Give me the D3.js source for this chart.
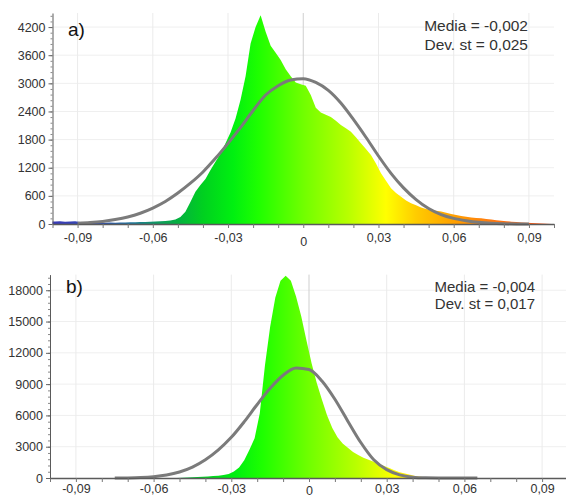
<!DOCTYPE html>
<html>
<head>
<meta charset="utf-8">
<script src="https://cdn.jsdelivr.net/npm/d3@7"></script>
<style>
body{margin:0;background:#fff;}
svg text{font-family:"Liberation Sans",Arial,sans-serif;}
</style>
</head>
<body>
<svg id="svg" width="566" height="498"></svg>
<script>
// histogram bins: start at -0.1, width 0.002 (100 bins)
var binStart=-0.1, binWidth=0.002;

var countsA=[
    55,60,50,55,60,45,40,35,30,30,
    25,30,25,30,30,35,35,40,45,50,
    55,60,65,75,95,150,260,470,690,830,
    960,1150,1330,1500,1720,1950,2250,2650,3150,3850,
    4200,4450,4100,3800,3650,3500,3300,3150,3020,2980,
    2950,2750,2480,2380,2330,2280,2200,2110,2040,1970,
    1850,1720,1600,1470,1290,1080,920,760,660,580,
    500,440,400,350,320,300,280,265,240,215,
    190,170,155,140,130,120,105,95,80,70,
    60,50,40,30,25,20,15,10,5,0
];
var countsB=[
    0,0,0,0,0,0,0,0,0,0,
    0,0,0,0,0,0,0,0,0,0,
    0,0,0,5,10,30,50,70,95,120,
    150,185,225,290,380,620,1000,1700,2700,3800,
    6200,10800,14500,17300,18900,19400,18900,17400,15500,13200,
    11000,9100,7500,6000,4800,3900,3300,2900,2500,2200,
    1950,1750,1550,1350,1150,950,750,560,420,300,
    200,130,80,40,15,5,0,0,0,0,
    0,0,0,0,0,0,0,0,0,0,
    0,0,0,0,0,0,0,0,0,0
];

// normal curves
var curveXA=[-0.09,-0.085,-0.08,-0.075,-0.07,-0.065,-0.06,-0.055,-0.05,-0.045,-0.04,-0.035,-0.03,-0.025,-0.02,-0.015,-0.01,-0.005,
    0,0.005,0.01,0.015,0.02,0.025,0.03,0.035,0.04,0.045,0.05,0.055,0.06,0.065,0.07,0.075,0.08,0.085,0.09];
var curveA=[15,30,55,95,150,230,340,480,660,870,1110,1400,1720,2060,2420,2750,2950,3070,
    3100,3020,2850,2580,2230,1850,1450,1080,770,520,330,200,120,70,35,15,5,0,0];
var curveXB=[-0.075,-0.07,-0.065,-0.06,-0.055,-0.05,-0.045,-0.04,-0.035,-0.03,-0.025,-0.02,-0.015,-0.01,-0.005,
    0,0.005,0.01,0.015,0.02,0.025,0.03,0.035,0.04,0.045,0.05,0.055,0.06,0.065];
var curveB=[0,10,45,130,290,580,1050,1750,2700,3900,5400,7050,8600,9850,10550,
    10400,9300,7550,5450,3400,1750,800,300,80,15,0,0,0,0];

var xTicks=[-0.09,-0.06,-0.03,0,0.03,0.06,0.09];
var yTicksA=[0,600,1200,1800,2400,3000,3600,4200];
var yTicksB=[0,3000,6000,9000,12000,15000,18000];
var statsA=["Media = -0,002","Dev. st = 0,025"];
var statsB=["Media = -0,004","Dev. st = 0,017"];

// colour ramp along x
var rampStops=[-0.1,-0.08,-0.068,-0.058,-0.05,-0.04,-0.028,-0.018,0,0.018,0.033,0.045,0.06,0.075,0.09,0.1];
var rampColors=["#3a3ab8","#3050b0","#20789a","#109a60","#04b040","#00d020","#00f010","#1eff00",
    "#70ff00","#b8ff00","#ffff00","#ffcc00","#ffa000","#ff7a10","#ff5a10","#ff4a10"];

var locale=d3.formatLocale({decimal:",",thousands:".",grouping:[3],currency:["","€"],minus:"-"});
var fmtX=locale.format(".2f");

var svg=d3.select("#svg");
var defs=svg.append("defs");

function drawPanel(p){
    var x=d3.scaleLinear().domain([-0.1,0.1]).range([p.left,p.right]);
    var y=d3.scaleLinear().domain([0,p.yMax]).range([p.bottom,p.top]);
    var g=svg.append("g");

    // gradient in user space so colour follows x
    var grad=defs.append("linearGradient")
        .attr("id",p.id)
        .attr("gradientUnits","userSpaceOnUse")
        .attr("x1",x(-0.1)).attr("x2",x(0.1))
        .attr("y1",0).attr("y2",0);
    grad.selectAll("stop")
        .data(rampStops)
        .enter().append("stop")
        .attr("offset",function(d){return (d+0.1)/0.2;})
        .attr("stop-color",function(d,i){return rampColors[i];});

    // grid
    g.selectAll(".hgrid")
        .data(p.yTicks.slice(1))
        .enter().append("line")
        .attr("x1",x(-0.1)).attr("x2",Math.min(x(0.1),566))
        .attr("y1",function(d){return y(d);}).attr("y2",function(d){return y(d);})
        .attr("stroke","#efefef");
    g.selectAll(".vgrid")
        .data(xTicks)
        .enter().append("line")
        .attr("x1",function(d){return x(d);}).attr("x2",function(d){return x(d);})
        .attr("y1",p.top).attr("y2",p.bottom)
        .attr("stroke",function(d){return d===0?"#cfcfcf":"#ebebeb";});

    // histogram
    var pts=p.counts.map(function(c,i){return {x:binStart+binWidth*(i+0.5),c:c};});
    pts.unshift({x:-0.1,c:p.counts[0]});
    pts.push({x:0.1,c:p.counts[p.counts.length-1]});
    var area=d3.area()
        .x(function(d){return x(d.x);})
        .y0(y(0))
        .y1(function(d){return y(d.c);});
    g.append("path")
        .datum(pts)
        .attr("d",area)
        .attr("fill","url(#"+p.id+")");

    // fitted curve
    var line=d3.line()
        .x(function(d,i){return x(p.curveX[i]);})
        .y(function(d){return y(d);})
        .curve(d3.curveMonotoneX);
    g.append("path")
        .datum(p.curve)
        .attr("d",line)
        .attr("fill","none")
        .attr("stroke","#7b7b7b")
        .attr("stroke-width",3);

    // x axis: minor ticks every 0.01, labels every 0.03
    var xMinor=g.append("g")
        .attr("transform","translate(0,"+p.bottom+")")
        .call(d3.axisBottom(x).tickValues(d3.range(-0.1,0.1001,0.01)).tickSize(4).tickSizeOuter(0).tickFormat(""));
    xMinor.select(".domain").attr("stroke","#5a5a5a").attr("stroke-width",1.5);
    xMinor.selectAll(".tick line").attr("stroke","#777");

    var xAxis=g.append("g")
        .attr("transform","translate(0,"+p.bottom+")")
        .call(d3.axisBottom(x).tickValues(xTicks).tickSize(0).tickPadding(p.xPad)
            .tickFormat(function(d){return d===0?"0":fmtX(d);}));
    xAxis.select(".domain").remove();
    xAxis.selectAll("text")
        .attr("font-size",12.5)
        .attr("fill","#333")
        .attr("font-family","'Liberation Sans',Arial,sans-serif")
        .attr("dy",function(d){return d===0?p.zeroDy:"0.71em";});

    // y axis
    var yMinor=g.append("g")
        .attr("transform","translate("+x(-0.1)+",0)")
        .call(d3.axisLeft(y).tickValues(d3.range(0,p.yMax,p.yMinor)).tickSize(2).tickSizeOuter(0).tickFormat(""));
    yMinor.select(".domain").attr("stroke","#5a5a5a");
    yMinor.selectAll(".tick line").attr("stroke","#888");

    var yAxis=g.append("g")
        .attr("transform","translate("+x(-0.1)+",0)")
        .call(d3.axisLeft(y).tickValues(p.yTicks).tickSize(4).tickPadding(3).tickFormat(d3.format("d")));
    yAxis.select(".domain").remove();
    yAxis.selectAll(".tick line").attr("stroke","#666");
    yAxis.selectAll("text")
        .attr("font-size",12.5)
        .attr("fill","#333")
        .attr("font-family","'Liberation Sans',Arial,sans-serif");

    // panel letter
    g.append("text")
        .attr("x",p.labelX).attr("y",p.labelY)
        .attr("font-size",19)
        .attr("fill","#111")
        .text(p.label);

    // stats box
    g.selectAll(".stat")
        .data(p.stats)
        .enter().append("text")
        .attr("x",p.statsX)
        .attr("y",function(d,i){return p.statsY+i*p.statsGap;})
        .attr("text-anchor","end")
        .attr("font-size",p.statsSize)
        .attr("fill","#333")
        .text(function(d){return d;});
}

drawPanel({id:"gradA",counts:countsA,curveX:curveXA,curve:curveA,
    yMax:4500,yTicks:yTicksA,yMinor:120,
    left:52.5,right:554,top:13,bottom:224,xPad:9,zeroDy:"1.0em",
    label:"a)",labelX:68,labelY:36,
    stats:statsA,statsX:528,statsY:31,statsGap:19,statsSize:15.5});

drawPanel({id:"gradB",counts:countsB,curveX:curveXB,curve:curveB,
    yMax:19500,yTicks:yTicksB,yMinor:600,
    left:50,right:568,top:274.6,bottom:478,xPad:6,zeroDy:"0.85em",
    label:"b)",labelX:66,labelY:293,
    stats:statsB,statsX:535,statsY:291.5,statsGap:17,statsSize:15});
</script>
</body>
</html>
